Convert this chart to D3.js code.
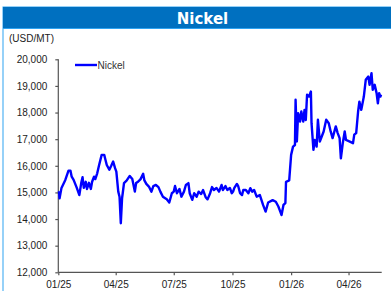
<!DOCTYPE html>
<html><head><meta charset="utf-8">
<script src="https://cdn.jsdelivr.net/npm/d3@7"></script>
<style>html,body{margin:0;padding:0;background:#fff;}svg{display:block;}</style>
</head><body>
<script>
const title = "Nickel";
const unitLabel = "(USD/MT)";
const seriesName = "Nickel";
const yTicks = [12000,13000,14000,15000,16000,17000,18000,19000,20000];
const xTickDates = ["2025-01-01","2025-04-01","2025-07-01","2025-10-01","2026-01-01","2026-04-01"];
const dates = [
"2025-01-02","2025-01-03","2025-01-06","2025-01-12","2025-01-17","2025-01-20","2025-01-22","2025-01-25","2025-01-30",
"2025-02-03","2025-02-06","2025-02-08","2025-02-10","2025-02-13","2025-02-15","2025-02-18","2025-02-21","2025-02-23","2025-02-26","2025-02-28",
"2025-03-03","2025-03-06","2025-03-10","2025-03-14","2025-03-16","2025-03-18","2025-03-22","2025-03-25","2025-03-28","2025-03-31",
"2025-04-02","2025-04-05","2025-04-07","2025-04-09","2025-04-11","2025-04-12","2025-04-14","2025-04-18","2025-04-23","2025-04-27",
"2025-05-01","2025-05-03","2025-05-06","2025-05-10","2025-05-14","2025-05-16","2025-05-19","2025-05-23","2025-05-27","2025-05-30",
"2025-06-03","2025-06-07","2025-06-10","2025-06-14","2025-06-20","2025-06-24","2025-06-28",
"2025-07-01","2025-07-03","2025-07-06","2025-07-10","2025-07-13","2025-07-17","2025-07-20","2025-07-24","2025-07-26","2025-07-30",
"2025-08-02","2025-08-06","2025-08-09","2025-08-13","2025-08-16","2025-08-20","2025-08-23","2025-08-27","2025-08-30",
"2025-09-02","2025-09-06","2025-09-10","2025-09-14","2025-09-16","2025-09-20","2025-09-23","2025-09-27","2025-09-30",
"2025-10-02","2025-10-04","2025-10-08","2025-10-10","2025-10-13","2025-10-16","2025-10-18","2025-10-22","2025-10-26","2025-10-29",
"2025-11-01","2025-11-04","2025-11-08","2025-11-13","2025-11-18","2025-11-22","2025-11-26",
"2025-12-03","2025-12-08","2025-12-12","2025-12-15","2025-12-17","2025-12-20","2025-12-23","2025-12-24","2025-12-29",
"2026-01-01","2026-01-04","2026-01-07","2026-01-08","2026-01-10","2026-01-12","2026-01-15","2026-01-17","2026-01-20","2026-01-22","2026-01-24","2026-01-26","2026-01-29",
"2026-02-01","2026-02-02","2026-02-05","2026-02-07","2026-02-10","2026-02-12","2026-02-15","2026-02-18","2026-02-21","2026-02-25",
"2026-03-01","2026-03-04","2026-03-07","2026-03-12","2026-03-15","2026-03-18","2026-03-20","2026-03-23","2026-03-26","2026-03-28",
"2026-04-03","2026-04-08","2026-04-10","2026-04-13","2026-04-16","2026-04-18","2026-04-21","2026-04-25","2026-04-28",
"2026-05-02","2026-05-04","2026-05-07","2026-05-09","2026-05-12","2026-05-15","2026-05-17","2026-05-19","2026-05-21","2026-05-22"
];
const values = [
15050,14780,15170,15470,15820,15820,15590,15470,15170,
14900,15360,15570,15170,15400,15130,15360,15130,15400,15590,15500,
15720,16030,16410,16410,16220,16030,15850,16000,16160,15910,
15780,15030,14840,13840,14790,14970,15350,15440,15620,15500,
15030,15350,15400,15500,15700,15450,15320,15220,15030,15240,
15280,15200,15030,14840,14740,14620,14970,
15030,15240,14970,15130,14840,15030,15280,15350,14970,14720,
14970,14840,15030,14940,15090,14820,14740,14970,15200,
15090,15170,15030,15280,15090,15240,15090,15170,14970,
15030,15170,15320,15240,14970,14900,15090,15090,14970,15160,
15030,15090,14840,14900,14530,14280,14620,
14710,14650,14470,14280,14150,14530,14600,15400,15450,
16410,16720,16780,18480,16910,17980,17660,18040,17660,18100,17720,18670,18600,
18790,17600,16600,16970,16720,17730,16910,17100,17290,17730,
17600,17290,17040,17480,17230,17040,16280,16850,17290,16970,
16910,16850,17170,17230,18040,18410,18100,18600,19230,
19350,19040,19480,18850,19040,18730,18350,18730,18600,18670
];

const W = 391, H = 291;
const svg = d3.select("body").append("svg").attr("width", W).attr("height", H);
const parse = d3.utcParse("%Y-%m-%d");
const data = dates.map((d,i)=>({date: parse(d), value: values[i]}));

// frame & title bar
svg.append("rect").attr("x",3).attr("y",7).attr("width",W).attr("height",H)
  .attr("fill","#fff").attr("stroke","#2EA3F2").attr("stroke-width",1);
svg.append("rect").attr("x",3).attr("y",7).attr("width",W).attr("height",21).attr("fill","#0070C0");
svg.append("line").attr("x1",3).attr("x2",W).attr("y1",28.5).attr("y2",28.5).attr("stroke","#2EA3F2");
svg.append("text").attr("x",202.5).attr("y",23.5).attr("text-anchor","middle")
  .attr("font-family","DejaVu Sans").attr("font-weight","bold").attr("font-size",15)
  .attr("fill","#fff").text(title);
svg.append("text").attr("x",9).attr("y",42).attr("font-family","Liberation Sans, Arial")
  .attr("font-size",10).attr("fill","#222").text(unitLabel);

const x = d3.scaleUtc().domain([parse("2025-01-01"), parse("2026-05-23")]).range([58.3, 381.7]);
const y = d3.scaleLinear().domain([12000, 20000]).range([272.3, 59.3]);

const axisColor = "#555";
const gy = svg.append("g").attr("transform","translate(58.3,0)")
  .call(d3.axisLeft(y).tickValues(yTicks).tickFormat(d3.format(",")).tickSize(3).tickPadding(8));
const gx = svg.append("g").attr("transform","translate(0,272.3)")
  .call(d3.axisBottom(x).tickValues(xTickDates.map(parse)).tickFormat(d3.utcFormat("%m/%y")).tickSize(3).tickPadding(6));
[gx, gy].forEach(g=>{
  g.select(".domain").attr("stroke",axisColor).attr("stroke-width",1.2);
  g.selectAll(".tick line").attr("stroke",axisColor).attr("stroke-width",1.2);
  g.selectAll(".tick text").attr("font-family","Liberation Sans, Arial").attr("font-size",10).attr("fill","#222");
});
gx.select(".domain").attr("d","M58.3,0H381.7");
gy.select(".domain").attr("d","M0,59.3V272.3");

const line = d3.line().x(d=>x(d.date)).y(d=>y(d.value));
svg.append("path").datum(data).attr("d",line).attr("fill","none")
  .attr("stroke","#0000FF").attr("stroke-width",2.4).attr("stroke-linejoin","round");

// legend
svg.append("line").attr("x1",75).attr("x2",97).attr("y1",65).attr("y2",65)
  .attr("stroke","#0000FF").attr("stroke-width",2.4);
svg.append("text").attr("x",97.5).attr("y",68.5).attr("font-family","Liberation Sans, Arial")
  .attr("font-size",10).attr("fill","#333").text(seriesName);
</script>
</body></html>
